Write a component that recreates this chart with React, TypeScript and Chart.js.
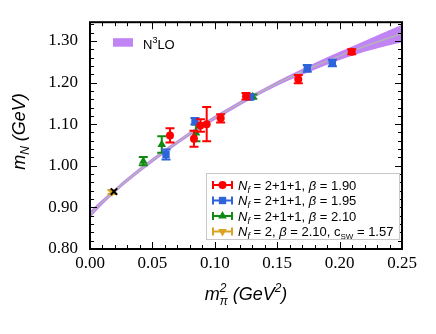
import React, { useEffect, useRef } from "react";
import { Chart, registerables } from "chart.js";

Chart.register(...registerables);

// ---- data ----
const RED_X = [0.0641, 0.0833, 0.0885, 0.0935, 0.1047, 0.125, 0.1669, 0.2097];
const RED_Y = [1.073, 1.065, 1.097, 1.1, 1.114, 1.167, 1.208, 1.274];
const RED_ERR = [0.017, 0.019, 0.015, 0.041, 0.01, 0.008, 0.01, 0.006];

const BLUE_X = [0.0609, 0.0841, 0.1282, 0.1741, 0.1942];
const BLUE_Y = [1.027, 1.107, 1.165, 1.234, 1.247];
const BLUE_ERR = [0.012, 0.008, 0.006, 0.008, 0.008];

const GREEN_X = [0.0427, 0.0575, 0.0849, 0.1304];
const GREEN_Y = [1.011, 1.051, 1.079, 1.166];
const GREEN_ERR = [0.01, 0.02, 0.02, 0.005];

const YELLOW_X = [0.0176];
const YELLOW_Y = [0.937];
const YELLOW_ERR = [0.005];

const PHYS_X = [0.0192];
const PHYS_Y = [0.938];

const FIT_X = [0, 0.01, 0.02, 0.03, 0.04, 0.06, 0.08, 0.1, 0.12, 0.14, 0.16, 0.18, 0.2, 0.22, 0.25];
const FIT_C = [0.883, 0.913, 0.94, 0.966, 0.99, 1.035, 1.077, 1.115, 1.15, 1.182, 1.212, 1.239, 1.264, 1.287, 1.318];
const FIT_H = [0.008, 0.006, 0.005, 0.005, 0.005, 0.005, 0.005, 0.005, 0.005, 0.005, 0.006, 0.008, 0.01, 0.013, 0.021];

const X_MIN = 0, X_MAX = 0.25, X_STEP = 0.05;
const Y_MIN = 0.8, Y_MAX = 1.345, Y_STEP = 0.1;

const RED = "#ff0000";
const BLUE = "#2d64dc";
const GREEN = "#118a11";
const YELLOW = "#d9a520";
const BAND = "#c184f5";

const SANS = "'Liberation Sans', Arial, sans-serif";
const SERIF = "'Liberation Serif', 'Times New Roman', serif";

type Part = { t: string; size: number; italic?: boolean; dy?: number; stay?: boolean };

function fontOf(p: Part) {
  return `${p.italic ? "italic " : ""}${p.size}px ${SANS}`;
}

function drawRich(ctx: CanvasRenderingContext2D, parts: Part[], x: number, y: number, align: "left" | "center") {
  let w = 0;
  parts.forEach((p) => {
    ctx.font = fontOf(p);
    if (!p.stay) w += ctx.measureText(p.t).width;
  });
  let cx = align === "center" ? x - w / 2 : x;
  ctx.textAlign = "left";
  ctx.textBaseline = "alphabetic";
  parts.forEach((p) => {
    ctx.font = fontOf(p);
    ctx.fillText(p.t, cx, y + (p.dy || 0));
    if (!p.stay) cx += ctx.measureText(p.t).width;
  });
}

function drawMarker(ctx: CanvasRenderingContext2D, style: string, x: number, y: number, r: number, color: string) {
  ctx.save();
  ctx.fillStyle = color;
  ctx.strokeStyle = color;
  ctx.beginPath();
  if (style === "circle") {
    ctx.arc(x, y, r, 0, Math.PI * 2);
    ctx.fill();
  } else if (style === "rect") {
    const s = r * Math.SQRT1_2;
    ctx.rect(x - s, y - s, 2 * s, 2 * s);
    ctx.fill();
  } else if (style === "triangle" || style === "down") {
    let a = style === "down" ? Math.PI : 0;
    for (let k = 0; k < 3; k++) {
      const px = x + Math.sin(a) * r;
      const py = y - Math.cos(a) * r;
      if (k === 0) ctx.moveTo(px, py);
      else ctx.lineTo(px, py);
      a += (2 * Math.PI) / 3;
    }
    ctx.closePath();
    ctx.fill();
  }
  ctx.restore();
}

const errorBarPlugin = {
  id: "errbars",
  beforeDatasetDraw(chart: any, args: any) {
    const ds = chart.data.datasets[args.index];
    if (!ds.errors) return;
    const ctx: CanvasRenderingContext2D = chart.ctx;
    const ys = chart.scales.y;
    const ca = chart.chartArea;
    ctx.save();
    ctx.beginPath();
    ctx.rect(ca.left, ca.top, ca.right - ca.left, ca.bottom - ca.top);
    ctx.clip();
    ctx.strokeStyle = ds.errorColor;
    ctx.lineWidth = 2;
    args.meta.data.forEach((el: any, i: number) => {
      const d = ds.data[i];
      const e = ds.errors[i];
      const x = el.x;
      const y1 = ys.getPixelForValue(d.y + e);
      const y2 = ys.getPixelForValue(d.y - e);
      ctx.beginPath();
      ctx.moveTo(x, y1);
      ctx.lineTo(x, y2);
      ctx.moveTo(x - 4.5, y1);
      ctx.lineTo(x + 4.5, y1);
      ctx.moveTo(x - 4.5, y2);
      ctx.lineTo(x + 4.5, y2);
      ctx.stroke();
    });
    ctx.restore();
  },
};

const LEGEND_ROWS: { style: string; color: string; parts: Part[] }[] = [
  {
    style: "circle",
    color: RED,
    parts: [
      { t: "N", size: 13, italic: true },
      { t: "f", size: 9, italic: true, dy: 3 },
      { t: " = 2+1+1, ", size: 13 },
      { t: "β", size: 13, italic: true },
      { t: " = 1.90", size: 13 },
    ],
  },
  {
    style: "rect",
    color: BLUE,
    parts: [
      { t: "N", size: 13, italic: true },
      { t: "f", size: 9, italic: true, dy: 3 },
      { t: " = 2+1+1, ", size: 13 },
      { t: "β", size: 13, italic: true },
      { t: " = 1.95", size: 13 },
    ],
  },
  {
    style: "triangle",
    color: GREEN,
    parts: [
      { t: "N", size: 13, italic: true },
      { t: "f", size: 9, italic: true, dy: 3 },
      { t: " = 2+1+1, ", size: 13 },
      { t: "β", size: 13, italic: true },
      { t: " = 2.10", size: 13 },
    ],
  },
  {
    style: "down",
    color: YELLOW,
    parts: [
      { t: "N", size: 13, italic: true },
      { t: "f", size: 9, italic: true, dy: 3 },
      { t: " = 2, ", size: 13 },
      { t: "β", size: 13, italic: true },
      { t: " = 2.10, c", size: 13 },
      { t: "SW", size: 8, dy: 3 },
      { t: " = 1.57", size: 13 },
    ],
  },
];

const decorPlugin = {
  id: "decor",
  afterDatasetsDraw(chart: any) {
    const ctx: CanvasRenderingContext2D = chart.ctx;
    const ca = chart.chartArea;
    const xs = chart.scales.x;
    const ys = chart.scales.y;
    ctx.save();
    // frame
    ctx.strokeStyle = "#000";
    ctx.lineWidth = 2;
    ctx.strokeRect(ca.left, ca.top, ca.right - ca.left, ca.bottom - ca.top);
    // ticks
    ctx.lineWidth = 1;
    ctx.beginPath();
    for (let i = 0; i <= 25; i++) {
      const px = Math.round(xs.getPixelForValue(i * 0.01)) + 0.5;
      const len = i % 5 === 0 ? 7 : 4;
      ctx.moveTo(px, ca.bottom);
      ctx.lineTo(px, ca.bottom - len);
      ctx.moveTo(px, ca.top);
      ctx.lineTo(px, ca.top + len);
    }
    for (let i = 0; i <= 27; i++) {
      const py = Math.round(ys.getPixelForValue(0.8 + i * 0.02)) + 0.5;
      const len = i % 5 === 0 ? 7 : 4;
      ctx.moveTo(ca.left, py);
      ctx.lineTo(ca.left + len, py);
      ctx.moveTo(ca.right, py);
      ctx.lineTo(ca.right - len, py);
    }
    ctx.stroke();

    // N3LO legend
    ctx.fillStyle = BAND;
    ctx.fillRect(ca.left + 23, ca.top + 16, 20, 8.5);
    ctx.fillStyle = "#000";
    drawRich(
      ctx,
      [
        { t: "N", size: 13 },
        { t: "3", size: 9, dy: -6 },
        { t: "LO", size: 13 },
      ],
      ca.left + 53,
      ca.top + 27,
      "left"
    );

    // data legend
    const bx = 206, by = 173, bw = 193, bh = 66;
    ctx.fillStyle = "#fff";
    ctx.fillRect(bx, by, bw, bh);
    ctx.strokeStyle = "#c8c8c8";
    ctx.lineWidth = 1;
    ctx.strokeRect(bx + 0.5, by + 0.5, bw, bh);
    const rowsY = [185, 200.5, 216, 231.5];
    LEGEND_ROWS.forEach((row, i) => {
      const cy = rowsY[i];
      ctx.strokeStyle = row.color;
      ctx.lineWidth = 2;
      ctx.beginPath();
      ctx.moveTo(213, cy);
      ctx.lineTo(232, cy);
      ctx.moveTo(213, cy - 4);
      ctx.lineTo(213, cy + 4);
      ctx.moveTo(232, cy - 4);
      ctx.lineTo(232, cy + 4);
      ctx.stroke();
      drawMarker(ctx, row.style, 222.5, cy, row.style === "rect" ? 5.2 : row.style === "circle" ? 4 : 5, row.color);
      ctx.fillStyle = "#000";
      drawRich(ctx, row.parts, 238, cy + 4.7, "left");
    });

    ctx.restore();
  },
  afterDraw(chart: any) {
    const ctx: CanvasRenderingContext2D = chart.ctx;
    const ca = chart.chartArea;
    ctx.save();
    ctx.fillStyle = "#000";
    // x title
    drawRich(
      ctx,
      [
        { t: "m", size: 18, italic: true },
        { t: "2", size: 12, italic: true, dy: -8, stay: true },
        { t: "π", size: 12, italic: true, dy: 5 },
        { t: " (GeV", size: 18, italic: true },
        { t: "2", size: 12, italic: true, dy: -8 },
        { t: ")", size: 18, italic: true },
      ],
      (ca.left + ca.right) / 2,
      300,
      "center"
    );
    // y title
    ctx.translate(25, 131.5);
    ctx.rotate(-Math.PI / 2);
    drawRich(
      ctx,
      [
        { t: "m", size: 18, italic: true },
        { t: "N", size: 12, italic: true, dy: 4 },
        { t: " (GeV)", size: 18, italic: true },
      ],
      0,
      0,
      "center"
    );
    ctx.restore();
  },
};

function pts(xs: number[], ys: number[]) {
  return xs.map((x, i) => ({ x, y: ys[i] }));
}

export default function App() {
  const ref = useRef<HTMLCanvasElement>(null);
  useEffect(() => {
    const upper = FIT_X.map((x, i) => ({ x, y: FIT_C[i] + FIT_H[i] }));
    const lower = FIT_X.map((x, i) => ({ x, y: FIT_C[i] - FIT_H[i] }));
    const center = pts(FIT_X, FIT_C);
    const pointDs = (data: any[], style: string, color: string, r: number, errs: number[] | null, extra: any = {}) => ({
      data,
      showLine: false,
      pointStyle: style,
      pointRadius: r,
      pointBackgroundColor: color,
      pointBorderColor: color,
      pointBorderWidth: 0,
      errors: errs,
      errorColor: color,
      order: 1,
      ...extra,
    });
    const chart = new Chart(ref.current as HTMLCanvasElement, {
      type: "scatter",
      data: {
        datasets: [
          pointDs(pts(RED_X, RED_Y), "circle", RED, 4, RED_ERR),
          pointDs(pts(BLUE_X, BLUE_Y), "rect", BLUE, 5.2, BLUE_ERR),
          pointDs(pts(GREEN_X, GREEN_Y), "triangle", GREEN, 5, GREEN_ERR),
          pointDs(pts(YELLOW_X, YELLOW_Y), "triangle", YELLOW, 5, YELLOW_ERR, { pointRotation: 180 }),
          pointDs(pts(PHYS_X, PHYS_Y), "crossRot", "#000", 4.5, null, { pointBorderWidth: 2, order: 0 }),
          {
            data: center,
            showLine: true,
            pointRadius: 0,
            borderColor: "#b4b4b4",
            borderWidth: 1.5,
            cubicInterpolationMode: "monotone",
            order: 5,
          },
          {
            data: upper,
            showLine: true,
            pointRadius: 0,
            borderWidth: 0,
            borderColor: BAND,
            backgroundColor: BAND,
            fill: "+1",
            cubicInterpolationMode: "monotone",
            order: 6,
          },
          {
            data: lower,
            showLine: true,
            pointRadius: 0,
            borderWidth: 0,
            borderColor: BAND,
            backgroundColor: BAND,
            fill: false,
            cubicInterpolationMode: "monotone",
            order: 7,
          },
        ] as any,
      },
      options: {
        responsive: false,
        devicePixelRatio: 1,
        animation: false,
        events: [],
        layout: { padding: { top: 22, right: 34, left: 0, bottom: 0 } },
        plugins: { legend: { display: false }, tooltip: { enabled: false } },
        scales: {
          x: {
            type: "linear",
            min: X_MIN,
            max: X_MAX,
            grid: { display: false, drawTicks: false },
            border: { display: false },
            ticks: {
              stepSize: X_STEP,
              includeBounds: false,
              autoSkip: false,
              maxRotation: 0,
              padding: 4,
              color: "#000",
              font: { family: SERIF, size: 17 },
              callback: (v: any) => Number(v).toFixed(2),
            },
            afterFit: (s: any) => {
              s.height = 85;
            },
          },
          y: {
            type: "linear",
            min: Y_MIN,
            max: Y_MAX,
            grid: { display: false, drawTicks: false },
            border: { display: false },
            ticks: {
              stepSize: Y_STEP,
              includeBounds: false,
              autoSkip: false,
              padding: 12,
              color: "#000",
              font: { family: SERIF, size: 17 },
              callback: (v: any) => Number(v).toFixed(2),
            },
            afterFit: (s: any) => {
              s.width = 90;
            },
          },
        },
      } as any,
      plugins: [errorBarPlugin, decorPlugin],
    });
    return () => chart.destroy();
  }, []);
  return (
    <div style={{ position: "fixed", left: 0, top: 0, width: 436, height: 334, background: "#fff" }}>
      <canvas ref={ref} width={436} height={334} style={{ display: "block", width: 436, height: 334 }} />
    </div>
  );
}
